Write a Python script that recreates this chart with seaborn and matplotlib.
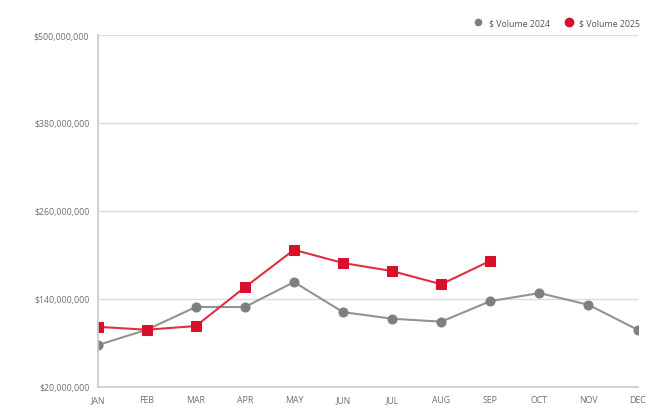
import matplotlib
matplotlib.use("Agg")
import seaborn as sns
import matplotlib.pyplot as plt
from matplotlib.lines import Line2D
import pandas as pd

months = ["JAN", "FEB", "MAR", "APR", "MAY", "JUN", "JUL", "AUG", "SEP", "OCT", "NOV", "DEC"]
vol_2024 = [77, 98, 129, 129, 163, 122, 113, 109, 137, 148, 132, 98]  # millions
vol_2025 = [102, 98, 103, 156, 207, 189, 178, 160, 192]  # millions
yticks = [20, 140, 260, 380, 500]

gray = "#7f7f7f"
red = "#d9102a"

sns.set_style("white")
plt.rcParams['font.family'] = ['Open Sans', 'DejaVu Sans']

df24 = pd.DataFrame({"month": months, "vol": vol_2024})
df25 = pd.DataFrame({"month": months[:len(vol_2025)], "vol": vol_2025})

fig = plt.figure(figsize=(6.6, 4.14), dpi=100)
ax = fig.add_axes([0.148, 0.063, 0.818, 0.85])

sns.lineplot(data=df24, x="month", y="vol", ax=ax, color="#939393", linewidth=1.5,
             marker="o", markersize=6.5, markerfacecolor=gray, markeredgecolor=gray)
sns.lineplot(data=df25, x="month", y="vol", ax=ax, color="#e0303f", linewidth=1.5,
             marker="s", markersize=6.5, markerfacecolor=red, markeredgecolor=red)

ax.set_xlim(0, 11)
ax.set_ylim(20, 500)
ax.set_yticks(yticks)
ax.set_yticklabels(["${:,.0f}".format(v * 1e6) for v in yticks])
ax.set_xticks(range(12))
ax.set_xticklabels(months)
ax.set_xlabel("")
ax.set_ylabel("")
ax.grid(axis="y", color="#dcdcdc", linewidth=1)
ax.tick_params(axis="both", labelsize=6.3, colors="#6e6e6e", length=0, pad=6)
for s in ["top", "right"]:
    ax.spines[s].set_visible(False)
for s in ["left", "bottom"]:
    ax.spines[s].set_color("#c8c8c8")
    ax.spines[s].set_linewidth(1.2)

handles = [Line2D([], [], marker="o", linestyle="", color=gray, markersize=4.5),
           Line2D([], [], marker="o", linestyle="", color=red, markersize=6)]
leg = ax.legend(handles, ["$ Volume 2024", "$ Volume 2025"], ncol=2, frameon=False,
                loc="lower right", bbox_to_anchor=(1.02, 1.0), fontsize=6.3,
                handletextpad=0.2, columnspacing=1.2)
for t in leg.get_texts():
    t.set_color("#555555")

fig.savefig("out.png", dpi=100)
